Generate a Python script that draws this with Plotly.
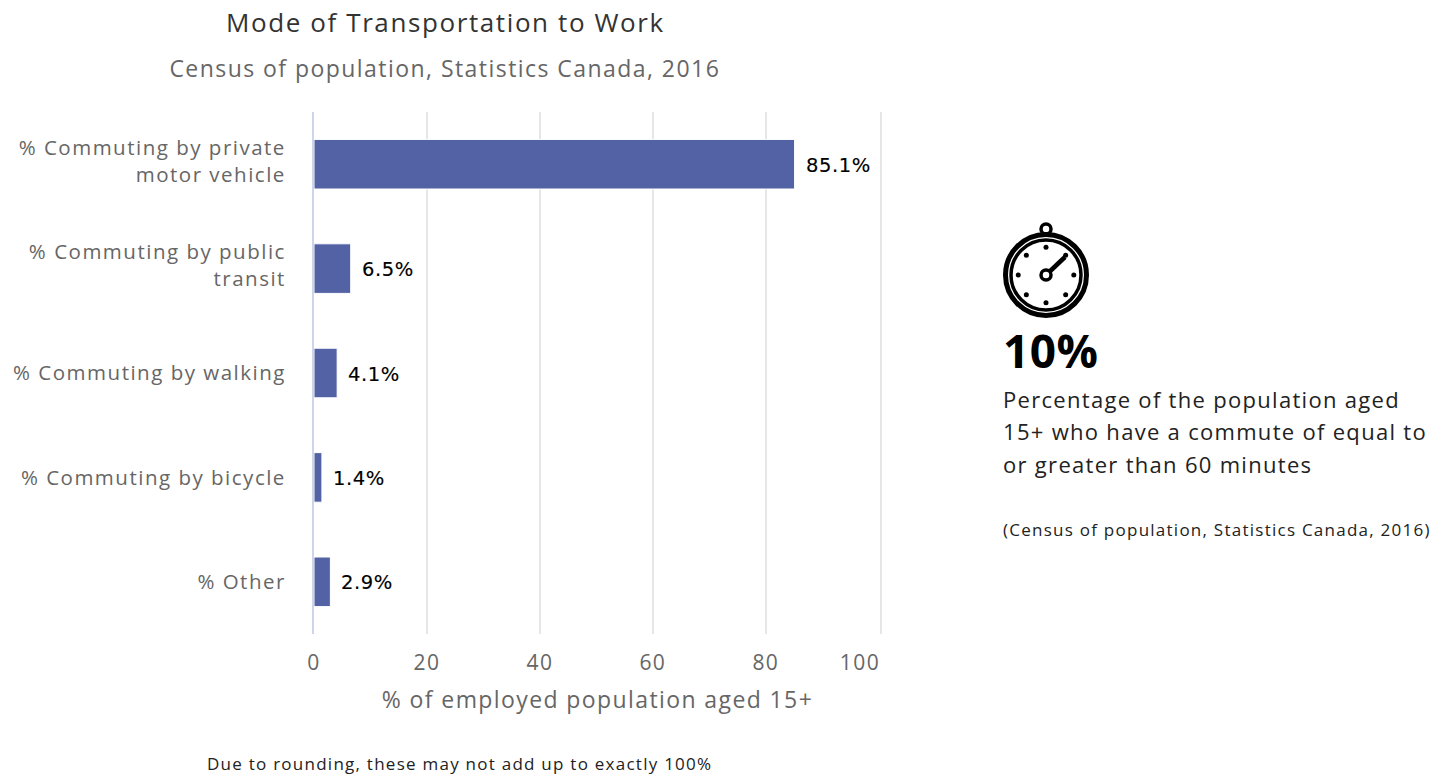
import json
import math
import plotly.graph_objects as go

categories = [
    "% Commuting by private<br>motor vehicle",
    "% Commuting by public<br>transit",
    "% Commuting by walking",
    "% Commuting by bicycle",
    "% Other",
]
values = [85.1, 6.5, 4.1, 1.4, 2.9]
x_ticks = [0, 20, 40, 60, 80]
x_last = 100

FONT = "Open Sans"
BAR = "#5362a5"
W, H = 1446, 776
L, R, T, B = 314, 881, 112, 634


# pixel position on the page to paper coordinates, for text and the icon
def px(x):
    return (x - L) / (R - L)


def py(y):
    return (B - y) / (B - T)


spacing = []


def label(x, y, text, size, color, anchor="left", weight=None, gap=1.3):
    spacing.append(gap)
    return dict(
        x=px(x), y=py(y), xref="paper", yref="paper", text=text, showarrow=False,
        xanchor=anchor, yanchor="middle",
        font=dict(family=FONT, size=size, color=color, weight=weight),
    )


def circle(cx, cy, r, width=0, fill=None):
    return dict(
        type="circle", xref="paper", yref="paper",
        x0=px(cx - r), x1=px(cx + r), y0=py(cy + r), y1=py(cy - r),
        line=dict(color="#000000", width=width), fillcolor=fill,
    )


fig = go.Figure()
fig.add_trace(go.Bar(
    x=values, y=categories, orientation="h",
    marker=dict(color=BAR, line=dict(color="#ffffff", width=1)),
    hovertemplate="%{y}: %{x}%<extra></extra>",
))

annotations = []
for v, c in zip(values, categories):
    spacing.append(0.6)
    annotations.append(dict(
        x=v, y=c, xref="x", yref="y", text=f"{v}%", showarrow=False,
        xanchor="left", xshift=9, yshift=-1,
        font=dict(family="DejaVu Sans", size=19.5, color="#000000"),
    ))
annotations += [
    label(445, 22, "Mode of Transportation to Work", 26, "#333333", "center", gap=1.6),
    label(445, 68, "Census of population, Statistics Canada, 2016", 23, "#666666", "center", gap=1.45),
    label(1001, 349.5, "10%", 46, "#000000", weight=700, gap=0.5),
    label(1001, 399, "Percentage of the population aged", 22, "#222222"),
    label(1001, 431, "15+ who have a commute of equal to", 22, "#222222"),
    label(1001, 464, "or greater than 60 minutes", 22, "#222222"),
    label(1001, 529, "(Census of population, Statistics Canada, 2016)", 17, "#222222", gap=1.25),
    label(205, 764, "Due to rounding, these may not add up to exactly 100%", 17, "#222222", gap=1.25),
    label(860, 662, str(x_last), 21, "#666666", "center", gap=1.5),
]

# stopwatch icon
cx, cy = 1046, 275
shapes = [
    # last gridline sits at the plot edge, a little past the 100 value
    dict(type="line", xref="paper", yref="paper", x0=1, x1=1, y0=0, y1=1,
         line=dict(color="#e6e6e6", width=2), layer="below"),
    circle(cx, 229, 5, width=3.5, fill="#ffffff"),
    circle(cx, cy, 40.5, width=5, fill="#ffffff"),
    circle(cx, cy, 35, width=3.5),
]
for k in range(8):
    a = k * math.pi / 4
    shapes.append(circle(cx + 27.8 * math.cos(a), cy + 27.8 * math.sin(a), 2.5, fill="#000000"))
shapes.append(dict(
    type="line", xref="paper", yref="paper",
    x0=px(cx), y0=py(cy), x1=px(1065), y1=py(257),
    line=dict(color="#000000", width=4.5),
))
shapes.append(circle(cx, cy, 5, width=3.5, fill="#ffffff"))

fig.update_layout(
    width=W, height=H,
    margin=dict(l=L, r=W - R, t=T, b=H - B, pad=0),
    paper_bgcolor="#ffffff", plot_bgcolor="#ffffff",
    font=dict(family=FONT, color="#666666"),
    bargap=0.525,
    showlegend=False,
    annotations=annotations,
    shapes=shapes,
)
fig.update_xaxes(
    range=[0, 100.4], tickvals=x_ticks, showgrid=True, gridcolor="#e6e6e6", gridwidth=2,
    zeroline=False, showline=False, ticks="", ticklabelstandoff=14,
    tickfont=dict(family=FONT, size=21, color="#666666"),
    title=dict(text="% of employed population aged 15+", standoff=16,
               font=dict(family=FONT, size=23, color="#666666")),
)
fig.update_yaxes(
    autorange="reversed", showgrid=False, zeroline=False, showline=True,
    linecolor="#ccd6eb", linewidth=2, ticks="", ticklabelstandoff=22,
    tickfont=dict(family=FONT, size=20.5, color="#666666"),
)

# plotly has no letter-spacing option, so it is set on the drawn text; the page margin would also shift the figure
post = """
document.body.style.margin = '0';
var gd = document.getElementById('{plot_id}');
var gaps = %s;
document.querySelectorAll('.xtick text, .xtitle').forEach(function (t) {
    t.style.letterSpacing = '1.4px';
});
document.querySelectorAll('.ytick text').forEach(function (t) {
    t.style.letterSpacing = '1.5px';
    if (t.querySelectorAll('tspan.line').length > 1) {
        t.parentNode.setAttribute('transform', 'translate(0,-3)');
    }
});
document.querySelectorAll('.annotation').forEach(function (a) {
    var i = +a.getAttribute('data-index');
    var t = a.querySelector('text');
    var before = t.getBBox().x;
    t.style.letterSpacing = gaps[i] + 'px';
    if (gd.layout.annotations[i].xanchor === 'left') {
        t.setAttribute('x', +t.getAttribute('x') + before - t.getBBox().x);
    }
    if (gd.layout.annotations[i].xref === 'x') {
        t.style.stroke = '#000000';
        t.style.strokeWidth = '0.15px';
    }
});
""" % json.dumps(spacing)

fig.write_html("out.html", post_script=post, config=dict(displayModeBar=False))
